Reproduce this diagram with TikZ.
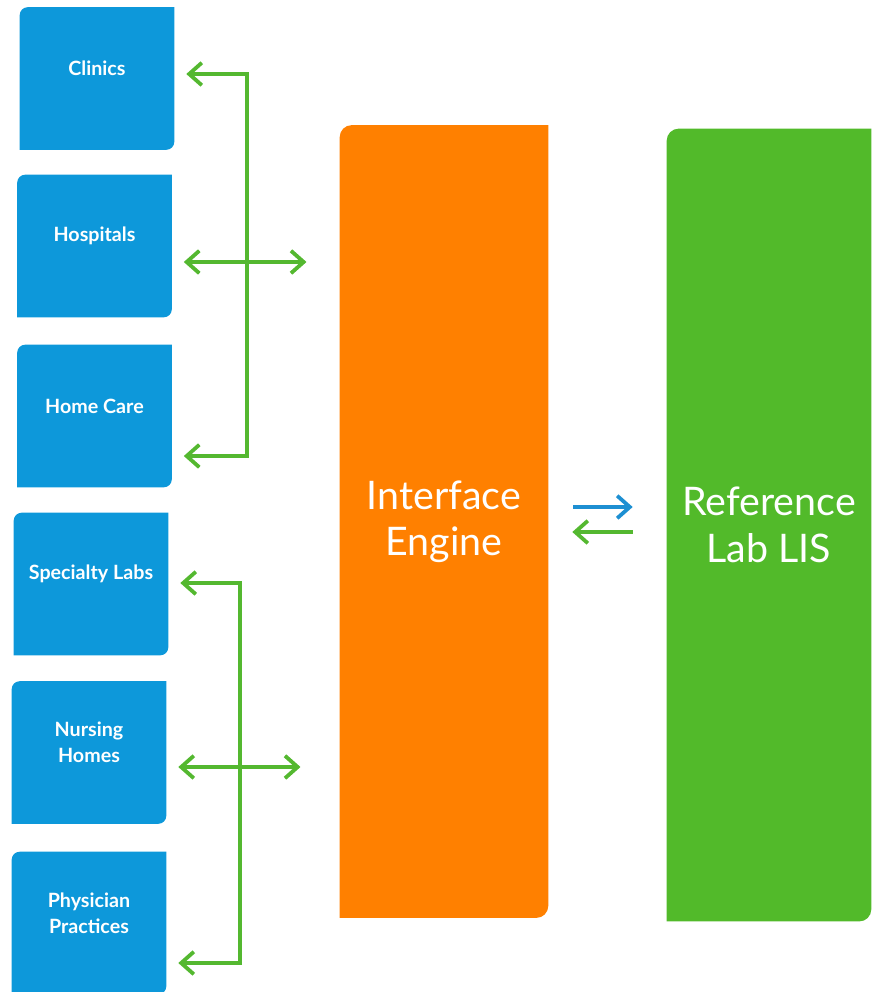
\documentclass[tikz,border=0pt]{standalone}
\usepackage{fontspec}
\setmainfont{Lato}
\usepackage{tikz}
\usetikzlibrary{positioning,calc,arrows.meta,backgrounds}
\definecolor{srcblue}{RGB}{13,152,218}
\definecolor{engorange}{RGB}{255,128,0}
\definecolor{lisgreen}{RGB}{82,186,42}
\definecolor{linkgreen}{RGB}{84,184,48}
\definecolor{linkblue}{RGB}{29,143,210}
\tikzstyle{src} = [minimum width=3.85cm, minimum height=3.55cm, inner sep=0pt]
\tikzstyle{srctext} = [font=\bfseries\fontsize{14}{18.5}\selectfont, text=white, align=center, yshift=0.25cm]
\tikzstyle{big} = [minimum width=5.2cm, minimum height=19.8cm, inner sep=0pt, text=white, align=center, font=\fontsize{28}{33}\selectfont]
\tikzstyle{link} = [line width=2.7pt, color=linkgreen, {Straight Barb[length=9pt,width=16pt]}-{Straight Barb[length=9pt,width=16pt]}]
\tikzstyle{oneway} = [line width=2.7pt, -{Straight Barb[length=9pt,width=16pt]}]
\newcommand{\leaf}[3]{\fill[#2] (#1.south west) [rounded corners=#3] -- (#1.north west) [sharp corners] -- (#1.north east) [rounded corners=#3] -- (#1.south east) [sharp corners] -- cycle;}

\begin{document}
\begin{tikzpicture}[x=0.025cm,y=-0.025cm]
\useasboundingbox (0,0) rectangle (872,992);
\node[src, label={[srctext]center:Clinics}] (clin) at (97,78.5) {};
\node[src, label={[srctext]center:Hospitals}] (hosp) at (94.5,246) {};
\node[src, label={[srctext]center:Home Care}] (home) at (94.5,416) {};
\node[src, label={[srctext]center:Specialty Labs}] (spec) at (91,584) {};
\node[src, label={[srctext]center:Nursing\\Homes}] (nurs) at (89,752.5) {};
\node[src, label={[srctext]center:Physician\\Practices}] (phys) at (89,923) {};
\node[big] (eng) at (444,521.5) {Interface\\Engine};
\node[big, minimum width=5.1cm] (lis) at (769,525) {Reference\\Lab LIS};
\begin{scope}[on background layer]
\leaf{clin}{srcblue}{0.2cm}
\leaf{hosp}{srcblue}{0.2cm}
\leaf{home}{srcblue}{0.2cm}
\leaf{spec}{srcblue}{0.2cm}
\leaf{nurs}{srcblue}{0.2cm}
\leaf{phys}{srcblue}{0.2cm}
\leaf{eng}{engorange}{0.3cm}
\leaf{lis}{lisgreen}{0.3cm}
\end{scope}
\coordinate (t1) at (247,74);
\coordinate (t2) at (247,456);
\coordinate (t3) at (247,262);
\coordinate (b1) at (240,583);
\coordinate (b2) at (240,963);
\coordinate (b3) at (240,767);
\coordinate (m1) at (600,507);
\coordinate (m2) at (600,532);
\draw[link, shorten <=0.3cm, shorten >=0.3cm] (clin.east |- t1) -- (t1) -- (t2) -- (home.east |- t2);
\draw[link, shorten <=0.3cm, shorten >=0.83cm] (hosp.east |- t3) -- (eng.west |- t3);
\draw[link, shorten <=0.3cm, shorten >=0.3cm] (spec.east |- b1) -- (b1) -- (b2) -- (phys.east |- b2);
\draw[link, shorten <=0.3cm, shorten >=0.98cm] (nurs.east |- b3) -- (eng.west |- b3);
\draw[oneway, color=linkblue, shorten <=0.62cm, shorten >=0.85cm] (eng.east |- m1) -- (lis.west |- m1);
\draw[oneway, color=linkgreen, shorten <=0.85cm, shorten >=0.6cm] (lis.west |- m2) -- (eng.east |- m2);
\end{tikzpicture}
\end{document}
